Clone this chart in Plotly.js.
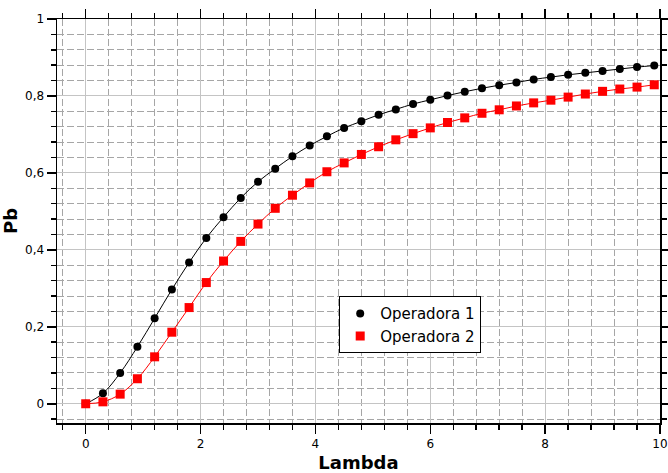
<!DOCTYPE html>
<html>
<head>
<meta charset="utf-8">
<script src="https://cdn.plot.ly/plotly-3.0.1.min.js"></script>
<style>html,body{margin:0;padding:0;background:#fff;}#chart{width:668px;height:473px;}</style>
</head>
<body>
<div id="chart"></div>
<script>
const lambda = [0, 0.3, 0.6, 0.9, 1.2, 1.5, 1.8, 2.1, 2.4, 2.7, 3.0, 3.3, 3.6, 3.9, 4.2, 4.5, 4.8, 5.1, 5.4, 5.7, 6.0, 6.3, 6.6, 6.9, 7.2, 7.5, 7.8, 8.1, 8.4, 8.7, 9.0, 9.3, 9.6, 9.9];
const operadora1 = [0, 0.027, 0.080, 0.148, 0.222, 0.297, 0.367, 0.431, 0.485, 0.535, 0.577, 0.611, 0.643, 0.671, 0.695, 0.717, 0.734, 0.751, 0.765, 0.779, 0.790, 0.801, 0.811, 0.820, 0.828, 0.835, 0.843, 0.849, 0.855, 0.860, 0.865, 0.870, 0.875, 0.879];
const operadora2 = [0, 0.005, 0.025, 0.065, 0.122, 0.186, 0.250, 0.315, 0.371, 0.422, 0.467, 0.508, 0.542, 0.574, 0.603, 0.626, 0.648, 0.668, 0.686, 0.702, 0.717, 0.731, 0.743, 0.755, 0.764, 0.774, 0.782, 0.789, 0.797, 0.805, 0.812, 0.818, 0.823, 0.829];
const seriesNames = ['Operadora 1', 'Operadora 2'];

const font = 'DejaVu Sans, sans-serif';
const m1 = {symbol: 'circle', size: 8, color: '#000'};
const m2 = {symbol: 'square', size: 9, color: '#ff0000'};
const traces = [
  {x: lambda, y: operadora1, name: seriesNames[0], mode: 'lines+markers', type: 'scatter', showlegend: false,
   line: {color: '#000', width: 1, shape: 'spline'}, marker: m1},
  {x: lambda, y: operadora2, name: seriesNames[1], mode: 'lines+markers', type: 'scatter', showlegend: false,
   line: {color: '#ff0000', width: 1, shape: 'spline'}, marker: m2},
  // legend entries (markers only, as in the reference legend)
  {x: [null], y: [null], name: seriesNames[0], mode: 'markers', type: 'scatter', marker: m1},
  {x: [null], y: [null], name: seriesNames[1], mode: 'markers', type: 'scatter', marker: m2}
];
const axisCommon = {
  showline: true, linecolor: '#000', linewidth: 1.5, mirror: 'ticks',
  ticks: 'outside', ticklen: 9, tickwidth: 1.5, tickcolor: '#000',
  showgrid: true, gridcolor: '#c4c4c4', gridwidth: 1, zeroline: false,
  tickfont: {family: font, size: 12, color: '#000'}
};
const minorCommon = {ticks: 'outside', ticklen: 5, tickwidth: 1.5, tickcolor: '#000',
  showgrid: true, gridcolor: '#a6a6a6', griddash: '7px,3px', gridwidth: 1};
const layout = {
  width: 668, height: 473,
  margin: {l: 57, r: 8, t: 19, b: 50},
  paper_bgcolor: '#fff', plot_bgcolor: '#fff',
  separators: ',.',
  showlegend: true,
  legend: {x: 0.468, y: 0.314, xanchor: 'left', yanchor: 'top',
    bgcolor: '#fff', bordercolor: '#000', borderwidth: 1,
    font: {family: font, size: 15, color: '#000'}, tracegroupgap: 0, itemwidth: 30},
  xaxis: Object.assign({}, axisCommon, {
    range: [-0.5, 10], tick0: 0, dtick: 2,
    title: {text: '<b>Lambda</b>', font: {family: font, size: 18, color: '#000'}, standoff: 6},
    minor: Object.assign({dtick: 0.4, tick0: 0}, minorCommon)
  }),
  yaxis: Object.assign({}, axisCommon, {
    range: [-0.05, 1], tick0: 0, dtick: 0.2,
    title: {text: '<b>Pb</b>', font: {family: font, size: 18, color: '#000'}, standoff: 4},
    minor: Object.assign({dtick: 0.04, tick0: 0}, minorCommon)
  })
};
Plotly.newPlot('chart', traces, layout, {displayModeBar: false, staticPlot: true});
</script>
</body>
</html>
